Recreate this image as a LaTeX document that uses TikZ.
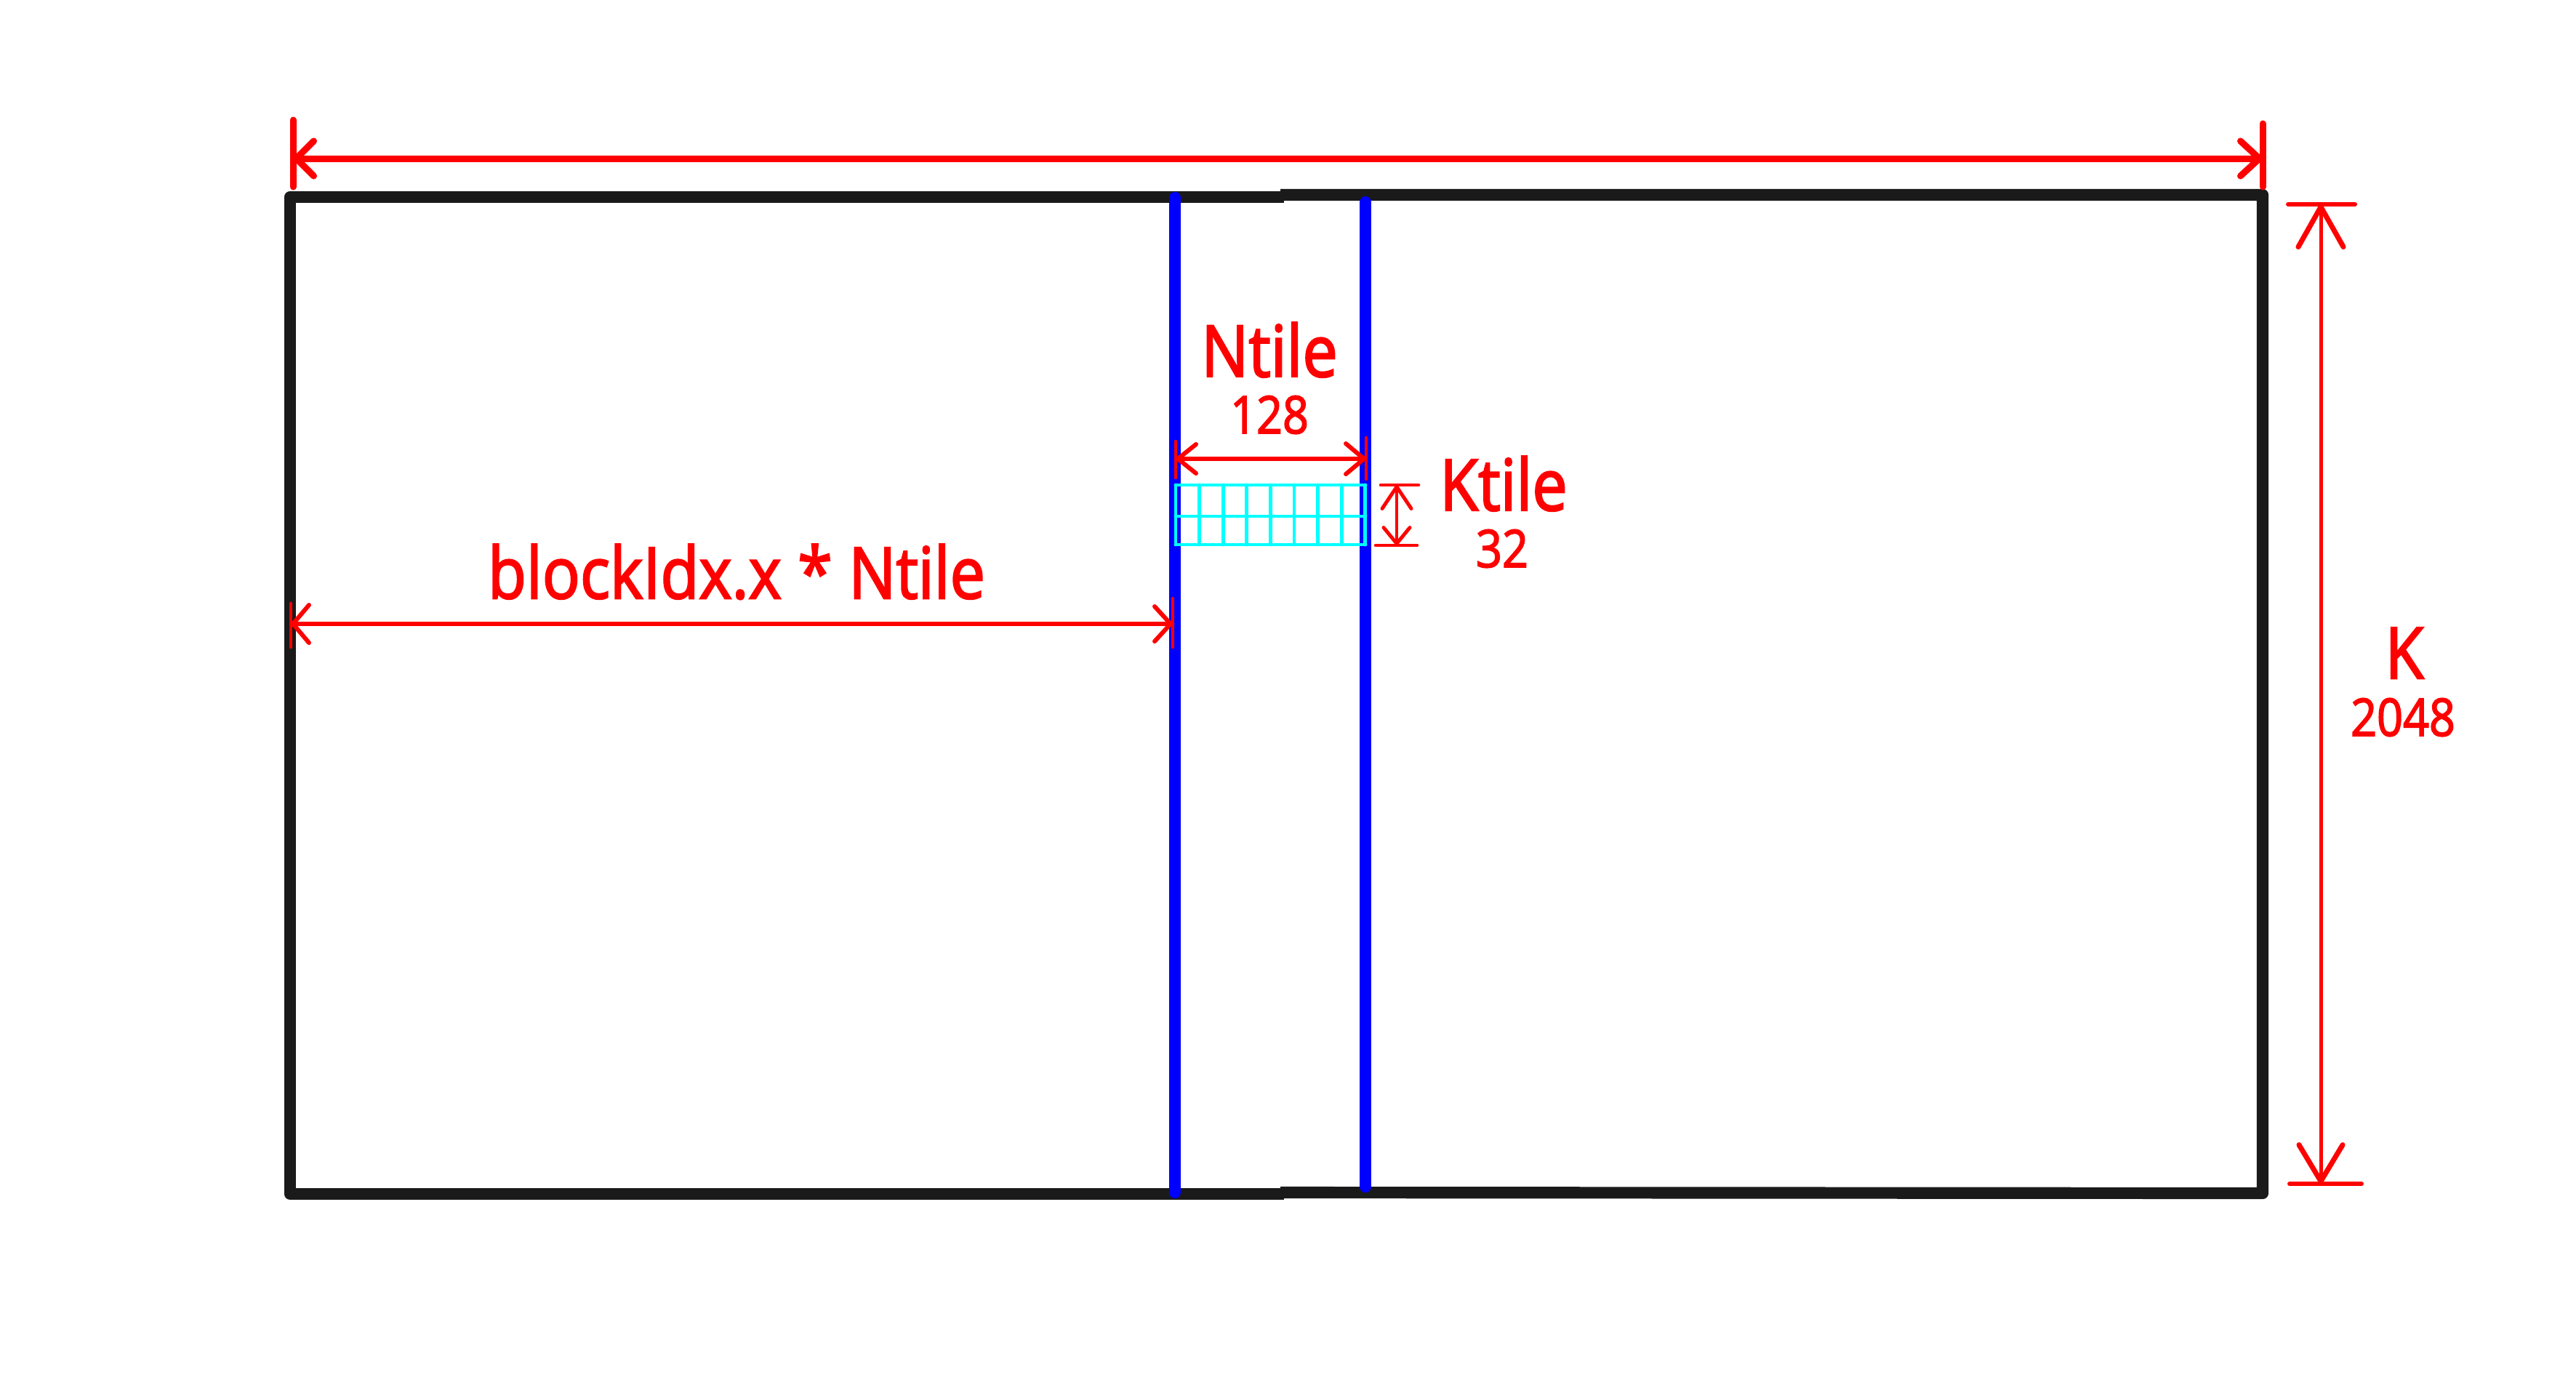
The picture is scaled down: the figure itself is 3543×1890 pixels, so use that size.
\documentclass[tikz,border=0pt]{standalone}
\usepackage{fontspec}
\setmainfont{Open Sans}
\newfontfamily\lblfont{Open Sans}[FakeBold=2.5]
\usepackage{graphicx}
\usetikzlibrary{arrows.meta}
\definecolor{framegray}{HTML}{1A1A1A}
\definecolor{tilecyan}{HTML}{00FFFF}
\definecolor{lineblue}{HTML}{0000FF}
\definecolor{dimred}{HTML}{FF0000}
\newcommand\sqz[1]{\scalebox{0.88}[1]{#1}}
\begin{document}
\begin{tikzpicture}[x=0.01cm,y=-0.01cm,
  frame/.style={draw=framegray,line width=4.6pt,line join=round},
  blueline/.style={draw=lineblue,line width=4.6pt,line cap=round},
  dimthick/.style={draw=dimred,line width=2.56pt,line cap=round},
  dimmid/.style={draw=dimred,line width=1.7pt,line cap=round},
  dimthin/.style={draw=dimred,line width=1.3pt,line cap=round},
  biglbl/.style={text=dimred,anchor=base,inner sep=0pt,font=\lblfont\fontsize{27.9}{30}\selectfont},
  smalllbl/.style={text=dimred,anchor=base,inner sep=0pt,font=\lblfont\fontsize{20.3}{22}\selectfont},
  cell/.style={draw=tilecyan,line width=1.4pt,line cap=round}
]
\useasboundingbox (0,0) rectangle (3543,1890);

% frame (two halves)
\draw[frame] (1766,271) -- (399,271) -- (399,1642) -- (1766,1642);
\draw[frame] (1761,268) -- (3112,268) -- (3112,1641) -- (1761,1640);

% blue lines
\coordinate (b1t) at (1616,272);
\coordinate (b1b) at (1616,1640);
\coordinate (b2t) at (1878,278);
\coordinate (b2b) at (1878,1632);
\draw[blueline] (b1t) -- (b1b);
\draw[blueline] (b2t) -- (b2b);

% cyan tile grid
\foreach \i in {0,...,8} {
  \draw[cell] ({1617+\i*32.6},667) -- ({1617+\i*32.6},749);
}
\foreach \yy in {667,710,749} {
  \draw[cell] (1617,\yy) -- (1878,\yy);
}

% top dimension
\coordinate (tdL) at (403,218);
\coordinate (tdR) at (3112,218);
\draw[dimthick] (403,165) -- (403,257);
\draw[dimthick] (3112,170) -- (3112,257);
\draw[dimthick,{Straight Barb[round,length=0.24cm,width=0.48cm]}-{Straight Barb[round,length=0.26cm,width=0.48cm]}] (tdL) -- (tdR);

% K dimension
\coordinate (kT) at (3192,281);
\coordinate (kB) at (3192,1628);
\draw[dimmid] (3147,281) -- (3239,281);
\draw[dimmid] (3149,1628) -- (3248,1628);
\draw[draw=dimred,line width=1.42pt,{Straight Barb[round,length=0.55cm,width=0.62cm,line width=2pt]}-{Straight Barb[round,length=0.5cm,width=0.6cm,line width=2pt]}] (kT) -- (kB);

% Ntile dimension
\coordinate (nL) at (1617,631);
\coordinate (nR) at (1879,631);
\draw[dimthin] (1617,607) -- (1617,657);
\draw[dimthin] (1879,602) -- (1879,659);
\draw[dimmid,{Straight Barb[round,length=0.25cm,width=0.4cm]}-{Straight Barb[round,length=0.25cm,width=0.42cm]}] (nL) -- (nR);

% Ktile dimension
\coordinate (ktT) at (1921,667);
\coordinate (ktB) at (1921,750);
\draw[dimthin] (1899,667) -- (1951,667);
\draw[dimthin] (1892,750) -- (1949,750);
\draw[draw=dimred,line width=1.14pt,{Straight Barb[round,length=0.3cm,width=0.4cm,line width=1.4pt]}-{Straight Barb[round,length=0.22cm,width=0.36cm,line width=1.4pt]}] (ktT) -- (ktB);

% blockIdx dimension
\coordinate (bL) at (400,858);
\coordinate (bR) at (1613,858);
\draw[dimthin] (400,830) -- (400,890);
\draw[dimthin] (1613,823) -- (1613,890);
\draw[dimmid,{Straight Barb[round,length=0.22cm,width=0.52cm]}-{Straight Barb[round,length=0.22cm,width=0.48cm]}] (bL) -- (bR);

% labels
\node[biglbl] (lblB) at (1013,823) {\sqz{blockIdx.x * Ntile}};
\node[biglbl] (lblN) at (1746,518) {\sqz{Ntile}};
\node[smalllbl] (lblN2) at (1746,596) {\sqz{128}};
\node[biglbl] (lblKt) at (2068,702) {\sqz{Ktile}};
\node[smalllbl] (lblKt2) at (2066,780) {\sqz{32}};
\node[biglbl] (lblK) at (3307,933) {\sqz{K}};
\node[smalllbl] (lblK2) at (3305,1012) {\sqz{2048}};
\end{tikzpicture}
\end{document}
